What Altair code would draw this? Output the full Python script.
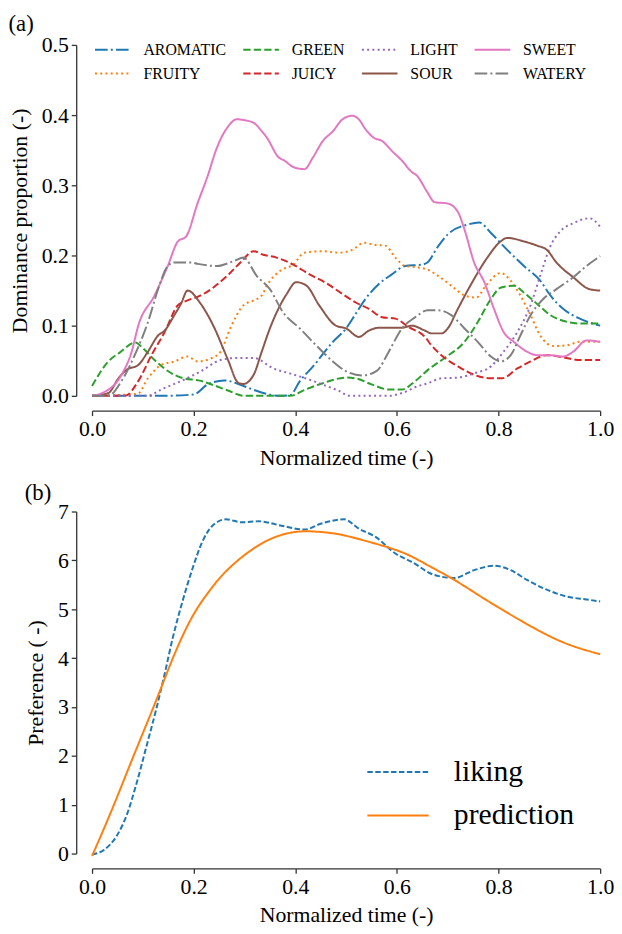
import altair as alt
import pandas as pd

FONT = "Liberation Serif"

# ---------------- Panel (a): dominance proportions ----------------
T_AROMATIC = [0, .14, .20, .227, .26, .298, .337, .37, .39, .409, .435, .474, .50, .519, .538, .564, .59, .616, .649, .66, .681, .70, .739, .762, .785, .817, .85, .882, .902, .927, .96, 1.0]
V_AROMATIC = [0, 0, .002, .016, .022, .014, .004, 0, .001, .021, .042, .077, .096, .117, .138, .159, .173, .185, .187, .19, .213, .23, .244, .247, .232, .208, .185, .164, .143, .124, .11, .10]

T_FRUITY = [0, .09, .11, .136, .162, .188, .208, .233, .253, .272, .298, .318, .334, .344, .37, .396, .418, .454, .486, .512, .535, .558, .577, .597, .616, .642, .66, .681, .707, .733, .756, .775, .804, .824, .843, .863, .882, .908, .934, .96, 1.0]
V_FRUITY = [0, .003, .025, .044, .049, .056, .049, .053, .063, .096, .129, .136, .143, .157, .178, .187, .204, .206, .204, .208, .218, .215, .214, .197, .185, .183, .18, .171, .157, .143, .14, .157, .175, .164, .143, .115, .086, .071, .072, .077, .077]

T_GREEN = [0, .032, .055, .085, .10, .123, .15, .18, .21, .24, .266, .30, .39, .42, .454, .50, .518, .551, .584, .61, .636, .661, .694, .733, .759, .785, .804, .83, .85, .876, .902, .927, .96, 1.0]
V_GREEN = [.014, .049, .062, .076, .068, .051, .035, .025, .022, .015, .008, 0, 0, .009, .018, .026, .025, .016, .009, .009, .021, .037, .054, .077, .105, .138, .154, .157, .147, .131, .115, .107, .103, .103]

T_JUICY = [0, .065, .091, .117, .143, .169, .188, .214, .24, .266, .292, .318, .337, .363, .396, .428, .46, .493, .519, .545, .571, .597, .623, .655, .668, .694, .72, .752, .785, .807, .837, .863, .895, .927, .96, 1.0]
V_JUICY = [0, 0, .021, .058, .091, .129, .136, .143, .155, .171, .19, .206, .201, .197, .187, .173, .161, .145, .133, .124, .112, .11, .098, .084, .072, .054, .042, .03, .025, .025, .039, .049, .058, .055, .051, .051]

T_LIGHT = [0, .11, .136, .175, .214, .253, .285, .318, .357, .389, .42, .454, .486, .506, .584, .61, .642, .661, .688, .72, .752, .785, .81, .837, .863, .882, .902, .921, .947, .979, 1.0]
V_LIGHT = [0, 0, .009, .021, .035, .051, .054, .054, .039, .032, .025, .016, .007, 0, 0, .004, .014, .018, .025, .026, .032, .042, .063, .091, .129, .171, .213, .234, .246, .253, .241]

T_SOUR = [0, .032, .052, .068, .091, .11, .13, .143, .162, .175, .188, .214, .24, .266, .289, .298, .318, .334, .35, .383, .402, .422, .447, .48, .50, .525, .545, .564, .59, .61, .629, .655, .668, .688, .70, .72, .746, .778, .804, .817, .85, .876, .895, .914, .947, .979, 1.0]
V_SOUR = [0, .004, .025, .037, .044, .063, .086, .093, .115, .131, .15, .131, .098, .054, .018, .017, .03, .063, .096, .145, .162, .157, .129, .10, .096, .084, .093, .097, .097, .097, .10, .093, .089, .089, .096, .124, .159, .197, .22, .225, .22, .214, .208, .19, .169, .152, .15]

T_SWEET = [0, .02, .058, .078, .091, .123, .149, .169, .185, .208, .227, .246, .266, .285, .298, .318, .334, .344, .367, .379, .396, .418, .435, .454, .474, .493, .512, .525, .538, .554, .571, .59, .61, .629, .639, .66, .674, .70, .72, .733, .752, .772, .791, .81, .83, .856, .876, .90, .927, .947, .973, 1.0]
V_SWEET = [0, .004, .03, .063, .10, .143, .185, .22, .227, .275, .312, .354, .382, .394, .393, .389, .377, .368, .34, .335, .326, .323, .34, .363, .377, .394, .399, .394, .38, .368, .363, .349, .335, .319, .314, .29, .276, .274, .262, .237, .19, .162, .124, .091, .077, .063, .058, .058, .056, .063, .079, .077]

T_WATERY = [0, .032, .058, .084, .11, .13, .149, .162, .195, .208, .246, .279, .298, .324, .35, .376, .409, .441, .474, .50, .532, .561, .584, .61, .636, .661, .681, .707, .733, .759, .785, .804, .824, .843, .863, .888, .914, .947, .973, 1.0]
V_WATERY = [0, 0, .021, .058, .105, .152, .185, .19, .19, .188, .185, .192, .197, .171, .152, .119, .096, .072, .049, .035, .029, .036, .063, .096, .112, .122, .122, .115, .096, .077, .056, .049, .058, .086, .115, .138, .152, .169, .185, .199]

# ---------------- Panel (b): preference ----------------
T_LIKING = [0, .023, .049, .068, .088, .107, .126, .143, .159, .178, .198, .217, .237, .263, .295, .328, .373, .418, .45, .496, .525, .558, .597, .629, .674, .713, .752, .791, .824, .856, .895, .934, .973, 1.0]
V_LIKING = [-0.02, .07, .37, .78, 1.45, 2.19, 2.94, 3.68, 4.42, 5.16, 5.84, 6.38, 6.71, 6.84, 6.78, 6.80, 6.71, 6.63, 6.75, 6.84, 6.65, 6.48, 6.14, 5.97, 5.70, 5.64, 5.80, 5.89, 5.80, 5.60, 5.40, 5.26, 5.20, 5.16]

T_PRED = [0, .023, .049, .081, .114, .14, .166, .198, .23, .263, .308, .354, .399, .438, .477, .509, .545, .609, .661, .713, .765, .817, .869, .921, .966, 1.0]
V_PRED = [-0.05, .50, 1.15, 1.98, 2.82, 3.50, 4.17, 4.86, 5.36, 5.77, 6.17, 6.45, 6.58, 6.59, 6.55, 6.48, 6.38, 6.17, 5.90, 5.60, 5.26, 4.93, 4.62, 4.35, 4.18, 4.08]

X_TICKS = [0, 0.2, 0.4, 0.6, 0.8, 1.0]
Y_TICKS_A = [0, 0.1, 0.2, 0.3, 0.4, 0.5]
Y_TICKS_B = [0, 1, 2, 3, 4, 5, 6, 7]

series_a = {
    "AROMATIC": (T_AROMATIC, V_AROMATIC), "FRUITY": (T_FRUITY, V_FRUITY),
    "GREEN": (T_GREEN, V_GREEN), "JUICY": (T_JUICY, V_JUICY),
    "LIGHT": (T_LIGHT, V_LIGHT), "SOUR": (T_SOUR, V_SOUR),
    "SWEET": (T_SWEET, V_SWEET), "WATERY": (T_WATERY, V_WATERY),
}
rows = []
for name, (ts, vs) in series_a.items():
    for i, (t, v) in enumerate(zip(ts, vs)):
        rows.append({"attr": name, "t": t, "v": v, "i": i})
df_a = pd.DataFrame(rows)

rows_b = []
for name, (ts, vs) in {"liking": (T_LIKING, V_LIKING), "prediction": (T_PRED, V_PRED)}.items():
    for i, (t, v) in enumerate(zip(ts, vs)):
        rows_b.append({"series": name, "t": t, "v": v, "i": i})
df_b = pd.DataFrame(rows_b)

ORDER = ["AROMATIC", "FRUITY", "GREEN", "JUICY", "LIGHT", "SOUR", "SWEET", "WATERY"]
COLORS = {"AROMATIC": "#1f77b4", "FRUITY": "#ff7f0e", "GREEN": "#2ca02c", "JUICY": "#d62728",
          "LIGHT": "#9467bd", "SOUR": "#8c564b", "SWEET": "#e377c2", "WATERY": "#7f7f7f"}
DASHDOT = [12.8, 3.2, 2, 3.2]
DASHED = [7.4, 3.2]
DOTTED = [2, 3.3]
SOLID = [1, 0]
DASHES = {"AROMATIC": DASHDOT, "FRUITY": DOTTED, "GREEN": DASHED, "JUICY": DASHED,
          "LIGHT": DOTTED, "SOUR": SOLID, "SWEET": SOLID, "WATERY": DASHDOT}

# wide horizontal stroke symbol (twice the nominal symbol width)
LINE_SYMBOL = "M-2,0H2"

legend_a = alt.Legend(title=None, orient="none", legendX=11, legendY=-5, columns=4,
                      symbolType=LINE_SYMBOL, symbolSize=324, symbolStrokeWidth=2,
                      labelFont=FONT, labelFontSize=16, labelColor="black",
                      columnPadding=13, rowPadding=6, labelOffset=21, padding=0)

x_axis = alt.Axis(title="Normalized time (-)", values=X_TICKS, format=".1f", offset=15, labelFlush=False)

chart_a = alt.Chart(df_a).mark_line(strokeWidth=2, interpolate="monotone").encode(
    x=alt.X("t:Q", scale=alt.Scale(domain=[0, 1], nice=False), axis=x_axis),
    y=alt.Y("v:Q", scale=alt.Scale(domain=[0, 0.5], nice=False),
            axis=alt.Axis(title="Dominance proportion (-)", values=Y_TICKS_A, format=".1f", offset=16)),
    color=alt.Color("attr:N", scale=alt.Scale(domain=ORDER, range=[COLORS[n] for n in ORDER]), legend=legend_a),
    strokeDash=alt.StrokeDash("attr:N", scale=alt.Scale(domain=ORDER, range=[DASHES[n] for n in ORDER]), legend=legend_a),
    order="i:Q",
).properties(width=514, height=355,
             title=alt.TitleParams("(a)", anchor="start", fontSize=23, font=FONT, fontWeight="normal",
                                   color="black", offset=-2))

legend_b = alt.Legend(title=None, orient="none", legendX=293, legendY=247,
                      symbolType=LINE_SYMBOL, symbolSize=961, symbolStrokeWidth=2,
                      labelFont=FONT, labelFontSize=30, labelColor="black",
                      rowPadding=12, labelOffset=40, padding=0)

enc_b = dict(
    x=alt.X("t:Q", scale=alt.Scale(domain=[0, 1], nice=False), axis=x_axis),
    y=alt.Y("v:Q", scale=alt.Scale(domain=[0, 7], nice=False),
            axis=alt.Axis(title="Preference ( -)", values=Y_TICKS_B, format="d", offset=16, labelFlush=False)),
    color=alt.Color("series:N", scale=alt.Scale(domain=["liking", "prediction"], range=["#1f77b4", "#ff7f0e"]), legend=legend_b),
    strokeDash=alt.StrokeDash("series:N", scale=alt.Scale(domain=["liking", "prediction"], range=[[5.5, 2.5], [1, 0]]), legend=legend_b),
    order="i:Q",
)
base_b = alt.Chart(df_b)
liking_line = base_b.transform_filter(alt.datum.series == "liking").mark_line(strokeWidth=2, interpolate="monotone").encode(**enc_b)
pred_line = base_b.transform_filter(alt.datum.series == "prediction").mark_line(strokeWidth=2, interpolate="natural").encode(**enc_b)

chart_b = alt.layer(liking_line, pred_line).properties(
    width=514, height=346,
    title=alt.TitleParams("(b)", anchor="start", fontSize=23, font=FONT, fontWeight="normal",
                          color="black", offset=-4))

chart = alt.vconcat(chart_a, chart_b, spacing=14).resolve_scale(
    color="independent", strokeDash="independent"
).properties(padding=0).configure_view(stroke=None).configure_axis(
    labelFont=FONT, titleFont=FONT, labelFontSize=22, titleFontSize=22,
    titleFontWeight="normal", labelColor="black", titleColor="black",
    domainColor="#333333", tickColor="#333333", domainWidth=1.3, tickWidth=1.3,
    tickSize=5, grid=False, labelPadding=3, titlePadding=8
).configure_axisY(titlePadding=10)

chart.save("out.html", embed_options={"renderer": "svg", "actions": False})
